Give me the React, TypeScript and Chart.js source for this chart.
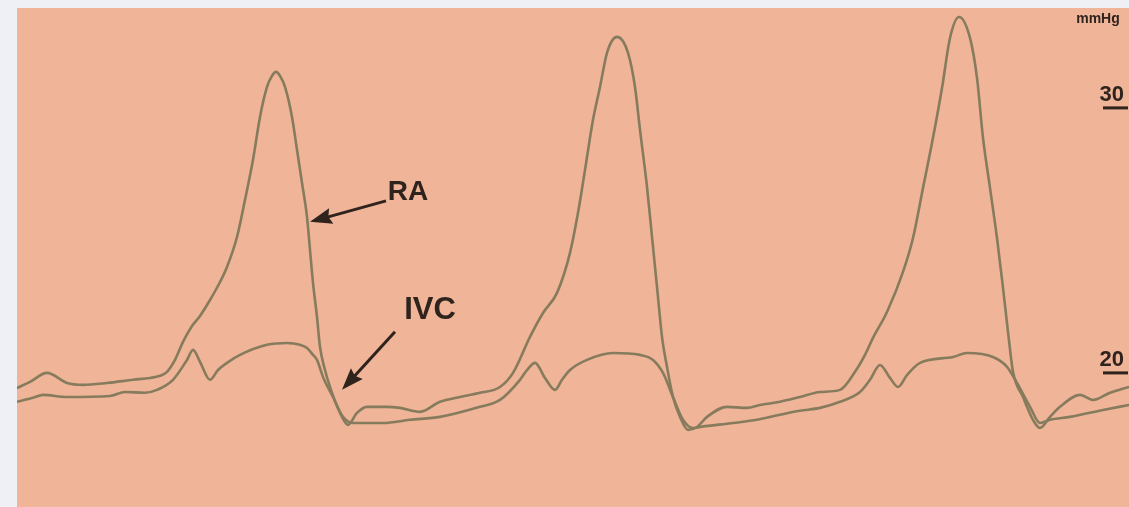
import React, { useEffect, useRef } from "react";
import { Chart, registerables } from "chart.js";

Chart.register(...registerables);

// Time in seconds, pressure in mmHg
const raTime = [
  0, 0.0325, 0.075, 0.125, 0.165, 0.225, 0.29, 0.3325, 0.3575, 0.375, 0.395, 0.415, 0.4375, 0.4575, 0.4825,
  0.5075, 0.525, 0.55, 0.57, 0.59, 0.6075, 0.625, 0.6375, 0.6475, 0.6575, 0.67, 0.6875, 0.7, 0.7125, 0.725,
  0.7325, 0.74, 0.75, 0.7575, 0.77, 0.7825, 0.8075, 0.8275, 0.85, 0.875, 0.925, 0.9575, 1.0075, 1.0575,
  1.1075, 1.1575, 1.2075, 1.24, 1.2825, 1.315, 1.35, 1.3825, 1.4025, 1.42, 1.44, 1.4575, 1.475, 1.5,
  1.5275, 1.545, 1.5575, 1.575, 1.5875, 1.6, 1.6125, 1.625, 1.64, 1.6575, 1.6775, 1.7, 1.725, 1.775, 1.825,
  1.8575, 1.9075, 1.9575, 2.0075, 2.0575, 2.095, 2.12, 2.14, 2.175, 2.215, 2.24, 2.265, 2.29, 2.3125, 2.3325,
  2.355, 2.3825, 2.4, 2.415, 2.4325, 2.45, 2.465, 2.4775, 2.49, 2.515, 2.54, 2.5575, 2.5825, 2.6075, 2.6575,
  2.69, 2.7325, 2.78,
];
const raPressure = [
  19.43, 19.66, 20.0, 19.62, 19.55, 19.62, 19.74, 19.81, 19.89, 20.04, 20.49, 21.17, 21.77, 22.15, 22.75,
  23.43, 24.0, 25.13, 26.53, 28.04, 29.66, 30.79, 31.21, 31.36, 31.21, 30.79, 29.66, 28.42, 27.17, 25.89,
  24.64, 23.4, 22.11, 20.98, 20.11, 19.47, 18.49, 18.04, 18.49, 18.72, 18.72, 18.68, 18.53, 18.91,
  19.09, 19.25, 19.47, 20.0, 21.36, 22.26, 23.02, 24.53, 26.04, 27.66, 29.55, 30.79, 32.08, 32.68,
  32.08, 30.79, 29.17, 27.02, 25.13, 23.25, 21.36, 20.23, 19.09, 18.34, 17.85, 17.96, 18.34, 18.72, 18.68,
  18.79, 18.91, 19.09, 19.28, 19.36, 20.04, 20.68, 21.32, 22.3, 23.81, 25.09, 26.98, 28.87, 30.75, 32.64,
  33.43, 32.64, 31.13, 28.87, 26.98, 25.09, 23.21, 21.55, 20.04, 19.09, 18.23, 17.92, 18.34, 18.72, 19.17,
  18.98, 19.25, 19.47,
];

const ivcTime = [
  0, 0.04, 0.065, 0.125, 0.2325, 0.27, 0.32, 0.35, 0.39, 0.425, 0.44, 0.4575, 0.4825, 0.5025, 0.525, 0.5575,
  0.625, 0.675, 0.7075, 0.725, 0.74, 0.75, 0.765, 0.79, 0.815, 0.84, 0.915, 0.9825, 1.0575, 1.1575, 1.2075,
  1.2575, 1.275, 1.295, 1.32, 1.345, 1.3625, 1.3825, 1.425, 1.49, 1.5575, 1.59, 1.615, 1.64, 1.665, 1.69,
  1.7075, 1.79, 1.85, 1.9075, 1.9575, 2.0075, 2.0575, 2.1075, 2.1325, 2.1575, 2.1825, 2.2025, 2.225, 2.2575,
  2.34, 2.375, 2.44, 2.475, 2.5, 2.5325, 2.5575, 2.5825, 2.6325, 2.715, 2.78,
];
const ivcPressure = [
  18.91, 19.06, 19.17, 19.09, 19.13, 19.28, 19.25, 19.36, 19.74, 20.49, 20.87, 20.42, 19.74, 20.11, 20.38, 20.68,
  21.06, 21.13, 21.06, 20.94, 20.68, 20.49, 19.85, 19.09, 18.34, 18.11, 18.11, 18.23, 18.34, 18.72, 18.98,
  19.74, 20.11, 20.38, 19.81, 19.36, 19.74, 20.11, 20.49, 20.75, 20.68, 20.49, 20.0, 19.09, 18.23, 17.92,
  17.96, 18.11, 18.23, 18.42, 18.57, 18.68, 18.91, 19.28, 19.74, 20.3, 19.81, 19.47, 19.92, 20.38,
  20.6, 20.75, 20.6, 20.23, 19.62, 18.72, 18.11, 18.23, 18.34, 18.6, 18.79,
];

const yTickLabels = [30, 20];
const unitLabel = "mmHg";
const xRange = [0, 2.78];
const yRange = [14.94, 33.77];

const traceLabels = [
  { text: "RA", at: [0.9775, 26.83], tail: [0.9225, 26.49], tip: [0.7325, 25.7], size: 28 },
  { text: "IVC", at: [1.0325, 22.34], tail: [0.945, 21.55], tip: [0.8125, 19.36], size: 31 },
];

const toPoints = (xs: number[], ys: number[]) => xs.map((x, i) => ({ x, y: ys[i] }));

const INK = "#2f231d";
const FONT = "'Liberation Sans', Arial, sans-serif";

const paperPlugin = {
  id: "paper",
  beforeDraw(chart: any) {
    const { ctx, width, height } = chart;
    ctx.save();
    ctx.fillStyle = "rgb(240,180,152)";
    ctx.fillRect(0, 0, width, height);
    ctx.restore();
  },
  afterDraw(chart: any) {
    const { ctx, chartArea } = chart;
    const xs = chart.scales.x;
    const ys = chart.scales.y;
    ctx.save();
    const right = chartArea.right;
    ctx.fillStyle = INK;
    ctx.textAlign = "center";
    ctx.textBaseline = "alphabetic";
    ctx.font = `bold 14px ${FONT}`;
    ctx.fillText(unitLabel, right - 31, chartArea.top + 15);
    yTickLabels.forEach((v) => {
      const py = ys.getPixelForValue(v);
      ctx.font = `bold 22px ${FONT}`;
      ctx.textAlign = "right";
      ctx.fillText(String(v), right - 5, py - 7);
      ctx.fillRect(right - 26, py - 1.5, 25, 3);
    });
    traceLabels.forEach((l) => {
      ctx.font = `bold ${l.size}px ${FONT}`;
      ctx.textAlign = "center";
      ctx.textBaseline = "middle";
      ctx.fillText(l.text, xs.getPixelForValue(l.at[0]), ys.getPixelForValue(l.at[1]));
      const tx = xs.getPixelForValue(l.tail[0]);
      const ty = ys.getPixelForValue(l.tail[1]);
      const hx = xs.getPixelForValue(l.tip[0]);
      const hy = ys.getPixelForValue(l.tip[1]);
      const ang = Math.atan2(hy - ty, hx - tx);
      const headLen = 22;
      const headW = 8;
      const bx = hx - headLen * Math.cos(ang);
      const by = hy - headLen * Math.sin(ang);
      ctx.strokeStyle = INK;
      ctx.lineWidth = 3;
      ctx.beginPath();
      ctx.moveTo(tx, ty);
      ctx.lineTo(bx + 4 * Math.cos(ang), by + 4 * Math.sin(ang));
      ctx.stroke();
      ctx.beginPath();
      ctx.moveTo(hx, hy);
      ctx.lineTo(bx + headW * Math.sin(ang), by - headW * Math.cos(ang));
      ctx.lineTo(bx + 3 * Math.cos(ang), by + 3 * Math.sin(ang));
      ctx.lineTo(bx - headW * Math.sin(ang), by + headW * Math.cos(ang));
      ctx.closePath();
      ctx.fillStyle = INK;
      ctx.fill();
    });
    ctx.restore();
  },
};

export default function App() {
  const canvasRef = useRef<HTMLCanvasElement | null>(null);

  useEffect(() => {
    document.body.style.margin = "0";
    document.body.style.background = "#eef0f5";
    document.body.style.overflow = "hidden";
    const canvas = canvasRef.current;
    if (!canvas) return;
    const outer = { borderColor: "#867b5d", borderWidth: 2.6, pointRadius: 0, cubicInterpolationMode: "monotone" as const, fill: false };
    const inner = { borderColor: "#c4b28e", borderWidth: 0.8, pointRadius: 0, cubicInterpolationMode: "monotone" as const, fill: false };
    const chart = new Chart(canvas, {
      type: "line",
      data: {
        datasets: [
          { label: "RA", data: toPoints(raTime, raPressure), ...outer },
          { label: "IVC", data: toPoints(ivcTime, ivcPressure), ...outer },
          { label: "RA core", data: toPoints(raTime, raPressure), ...inner },
          { label: "IVC core", data: toPoints(ivcTime, ivcPressure), ...inner },
        ],
      },
      options: {
        animation: false,
        responsive: true,
        maintainAspectRatio: false,
        layout: { padding: 0 },
        plugins: { legend: { display: false }, tooltip: { enabled: false }, title: { display: false } },
        scales: {
          x: { type: "linear", min: xRange[0], max: xRange[1], display: false },
          y: { type: "linear", min: yRange[0], max: yRange[1], display: false },
        },
      },
      plugins: [paperPlugin],
    });
    return () => chart.destroy();
  }, []);

  return (
    <div style={{ position: "absolute", left: 17, top: 8, width: 1112, height: 499 }}>
      <canvas ref={canvasRef} />
    </div>
  );
}
